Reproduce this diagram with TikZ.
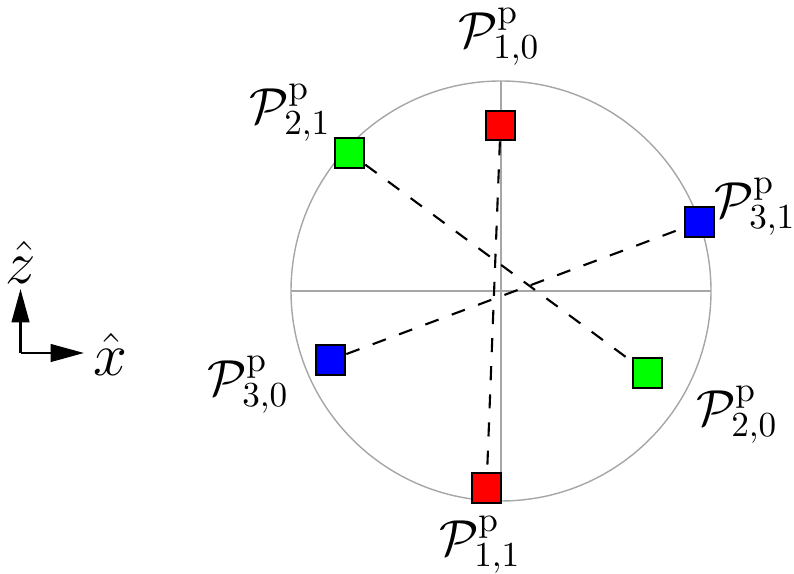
\documentclass[tikz,border=0pt]{standalone}
\usepackage{tikz}
\usetikzlibrary{arrows.meta,positioning,calc}
\tikzset{
  rnode/.style={rectangle,draw,line width=0.6pt,fill=red,minimum size=2.95mm,inner sep=0pt},
  gnode/.style={rectangle,draw,line width=0.6pt,fill=green,minimum size=2.95mm,inner sep=0pt},
  bnode/.style={rectangle,draw,line width=0.6pt,fill=blue,minimum size=2.95mm,inner sep=0pt},
  lnode/.style={inner sep=0pt,font=\Large},
  de/.style={line width=0.6pt,dash pattern=on 4pt off 4pt},
  ax/.style={-{Triangle[length=9.5pt,width=5pt]},line width=0.7pt}
}

\begin{document}
\begin{tikzpicture}[x=0.01cm,y=-0.01cm]
\useasboundingbox (0,0) rectangle (794,574);
% circle and axes through its centre
\coordinate (C) at (501,291);
\draw[gray!70,line width=0.4pt] (C) circle (210);
\draw[gray!70,line width=0.4pt] (291,291) -- (711,291);
\draw[gray!70,line width=0.4pt] (501,81) -- (501,501);
% points
\node[rnode] (R0) at (500.5,125.5) {};
\node[rnode] (R1) at (486.5,488) {};
\node[gnode] (G1) at (349.5,153) {};
\node[gnode] (G0) at (647.5,373) {};
\node[bnode] (B1) at (699.5,222) {};
\node[bnode] (B0) at (330.5,360) {};
\draw[de] (R0) -- (R1);
\draw[de] (G1) -- (G0);
\draw[de] (B0) -- (B1);
% labels
\node[lnode] (P10) at (499,37) {$\mathcal{P}^{\mathrm{p}}_{1,0}$};
\node[lnode] (P11) at (480,545) {$\mathcal{P}^{\mathrm{p}}_{1,1}$};
\node[lnode] (P21) at (290,113) {$\mathcal{P}^{\mathrm{p}}_{2,1}$};
\node[lnode] (P20) at (737,415) {$\mathcal{P}^{\mathrm{p}}_{2,0}$};
\node[lnode] (P31) at (755,207) {$\mathcal{P}^{\mathrm{p}}_{3,1}$};
\node[lnode] (P30) at (248,385) {$\mathcal{P}^{\mathrm{p}}_{3,0}$};
% coordinate axes
\coordinate (O) at (20.5,353);
\coordinate (zt) at (20.5,289);
\coordinate (xt) at (84,353);
\draw[ax] (O) -- (zt);
\draw[ax] (O) -- (xt);
\node[lnode,font=\LARGE] (zl) at (21,262) {$\hat{z}$};
\node[lnode,font=\LARGE] (xl) at (110,354) {$\hat{x}$};
\end{tikzpicture}
\end{document}
